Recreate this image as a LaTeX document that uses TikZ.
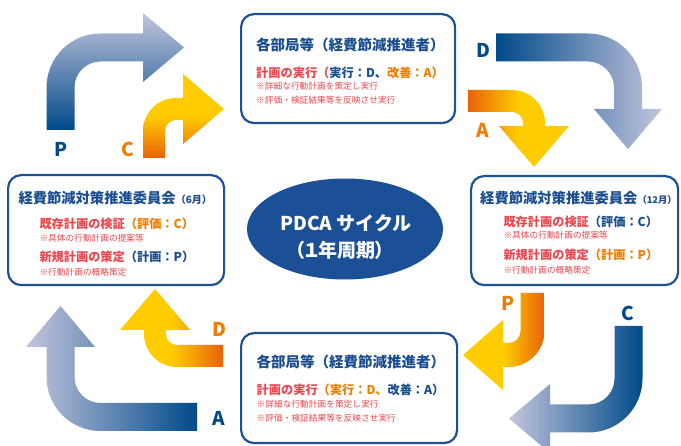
\documentclass[tikz,border=0pt]{standalone}
\usepackage{fontspec}
\newfontfamily\cjk{Noto Sans CJK JP}
\newfontfamily\cjkp{Noto Sans CJK JP}[RawFeature=+palt]
\usetikzlibrary{shapes.geometric}
\definecolor{navy}{HTML}{1A4D8F}
\definecolor{boxblue}{HTML}{1E5096}
\definecolor{arrnavy}{HTML}{004A8A}
\definecolor{lav}{HTML}{C3C5DD}
\definecolor{arrorange}{HTML}{E8620A}
\definecolor{yel}{HTML}{FFCC00}
\definecolor{txtred}{HTML}{E84850}
\definecolor{txtorange}{HTML}{EF7D00}
\definecolor{ellblue}{HTML}{1B4F96}
\begin{document}
\begin{tikzpicture}[x=1pt,y=-1pt,
  boxst/.style={draw=boxblue, line width=2.2pt, rounded corners=13pt, fill=white, anchor=north west, inner sep=0pt},
  ttl/.style={anchor=west, inner sep=0pt, text=navy, font=\cjk\bfseries\fontsize{14.5}{17}\selectfont},
  sttl/.style={anchor=west, inner sep=0pt, text=navy, font=\cjk\bfseries\fontsize{14.3}{16}\selectfont},
  lineb/.style={anchor=west, inner sep=0pt, font=\cjk\bfseries\fontsize{12.2}{14}\selectfont},
  note/.style={anchor=west, inner sep=0pt, text=txtred, font=\cjk\fontsize{8.7}{10}\selectfont},
  lbl/.style={inner sep=0pt, font=\cjk\bfseries\fontsize{19}{20}\selectfont},
  elltxt/.style={inner sep=0pt, text=white},
]
\useasboundingbox (0,0) rectangle (681,446);
\fill[white] (0,0) rectangle (681,446);

% ---- arrows ----
% top-left big (P)
\shade[top color=lav, bottom color=arrnavy]
  (46.5,130) -- (46.5,87.5) arc[start angle=180,end angle=270,radius=54]
  -- (143,33.5) -- (143,13) -- (184,47.5) -- (143,82) -- (143,61.5) -- (100.5,61.5)
  arc[start angle=270,end angle=180,radius=26] -- (74.5,130) -- cycle;
% top-left small (C)
\shade[top color=yel, bottom color=arrorange, middle color=yel]
  (143,158) -- (143,131) arc[start angle=180,end angle=270,radius=33]
  -- (183,98) -- (183,74) -- (224,109) -- (183,144) -- (183,120) -- (176,120)
  arc[start angle=270,end angle=180,radius=11] -- (165,158) -- cycle;
% top-right big (D)
\shade[left color=arrnavy, right color=lav]
  (496,33.5) -- (588,33.5) arc[start angle=270,end angle=360,radius=54]
  -- (642,109) -- (662,109) -- (628,149) -- (594,109) -- (614,109) -- (614,87.5)
  arc[start angle=0,end angle=-90,radius=26] -- (496,61.5) -- cycle;
% top-right small (A)
\shade[left color=arrorange, right color=yel, middle color=yel]
  (468,90) -- (512,90) arc[start angle=270,end angle=360,radius=33]
  -- (545,126) -- (569,126) -- (534,167) -- (499,126) -- (523,126) -- (523,123)
  arc[start angle=0,end angle=-90,radius=11] -- (468,112) -- cycle;
% bottom-right small (P)
\shade[left color=yel, right color=arrorange, middle color=yel]
  (544.5,293) -- (544.5,331) arc[start angle=0,end angle=90,radius=36]
  -- (503,367) -- (503,390) -- (463,355) -- (503,320) -- (503,343) -- (508.5,343)
  arc[start angle=90,end angle=0,radius=12] -- (520.5,293) -- cycle;
% bottom-right big (C)
\shade[left color=lav, right color=arrnavy]
  (642.5,326) -- (642.5,378.5) arc[start angle=0,end angle=90,radius=54]
  -- (550,432.5) -- (550,453) -- (509,418.5) -- (550,384) -- (550,404.5) -- (588.5,404.5)
  arc[start angle=90,end angle=0,radius=26] -- (614.5,326) -- cycle;
% bottom-left big (A)
\shade[left color=lav, right color=arrnavy]
  (197,431) -- (100.5,431) arc[start angle=90,end angle=180,radius=54]
  -- (46.5,347) -- (26,347) -- (60.5,306) -- (95,347) -- (74.5,347) -- (74.5,377)
  arc[start angle=180,end angle=90,radius=26] -- (197,403) -- cycle;
% bottom-left small (D)
\shade[left color=yel, right color=arrorange, middle color=yel]
  (223,367) -- (177,367) arc[start angle=90,end angle=180,radius=33]
  -- (144,330) -- (120,330) -- (155,289) -- (190,330) -- (166,330) -- (166,334)
  arc[start angle=180,end angle=90,radius=11] -- (223,345) -- cycle;

% ---- arrow labels ----
\node[lbl, text=arrnavy] (lp1) at (61,149.5) {P};
\node[lbl, text=txtorange] (lc1) at (127.5,149.5) {C};
\node[lbl, text=arrnavy] (ld1) at (483.5,50.5) {D};
\node[lbl, text=txtorange] (la1) at (483,130.5) {A};
\node[lbl, text=txtorange] (lp2) at (508,303) {P};
\node[lbl, text=arrnavy] (lc2) at (628,313) {C};
\node[lbl, text=txtorange] (ld2) at (219.5,329.7) {D};
\node[lbl, text=arrnavy] (la2) at (219,418) {A};

% ---- boxes ----
\node[boxst, minimum width=214pt, minimum height=109pt] (topbox) at (240,13) {};
\node[ttl] (toptitle) at (256,45) {各部局等（経費節減推進者）};
\node[lineb] (topline) at (256,72.5) {\textcolor{txtred}{計画の実行（}\textcolor{navy}{実行：D、}\textcolor{txtorange}{改善：A）}};
\node[note] (topnote1) at (256,86.5) {※詳細な行動計画を策定し実行};
\node[note] (topnote2) at (256,100.5) {※評価・検証結果等を反映させ実行};

\node[boxst, minimum width=216pt, minimum height=110pt] (botbox) at (240,332) {};
\node[ttl] (bottitle) at (256.5,362) {各部局等（経費節減推進者）};
\node[lineb] (botline) at (256.5,390) {\textcolor{txtred}{計画の実行}\textcolor{txtorange}{（実行：D、}\textcolor{navy}{改善：A）}};
\node[note] (botnote1) at (256.5,404) {※詳細な行動計画を策定し実行};
\node[note] (botnote2) at (256.5,418) {※評価・検証結果等を反映させ実行};

\node[boxst, minimum width=216pt, minimum height=110pt] (leftbox) at (7,174) {};
\node[sttl] (lefttitle) at (18.3,198.3) {経費節減対策推進委員会{\fontsize{10}{12}\selectfont（6月）}};
\node[lineb] (leftline1) at (39.3,224.3) {\textcolor{txtred}{既存計画の検証}\textcolor{txtorange}{（評価：C）}};
\node[note] (leftnote1) at (39.3,238.3) {※具体の行動計画の提案等};
\node[lineb] (leftline2) at (39.3,256.7) {\textcolor{txtred}{新規計画の策定}\textcolor{navy}{（計画：P）}};
\node[note] (leftnote2) at (39.3,272.3) {※行動計画の概略策定};

\node[boxst, minimum width=207pt, minimum height=109pt] (rightbox) at (470,175) {};
\node[sttl] (righttitle) at (480,198.3) {経費節減対策推進委員会{\fontsize{9.3}{12}\selectfont（12月）}};
\node[lineb] (rightline1) at (503.3,221.7) {\textcolor{txtred}{既存計画の検証}\textcolor{navy}{（評価：C）}};
\node[note] (rightnote1) at (503.3,235.5) {※具体の行動計画の提案等};
\node[lineb] (rightline2) at (503.3,255) {\textcolor{txtred}{新規計画の策定}\textcolor{txtorange}{（計画：P）}};
\node[note] (rightnote2) at (503.3,270.5) {※行動計画の概略策定};

% ---- center ellipse ----
\node[ellipse, fill=ellblue, minimum width=196pt, minimum height=101pt, inner sep=0pt] (pdca) at (345,229) {};
\node[elltxt, font=\cjk\bfseries\fontsize{19}{20}\selectfont] (pdca1) at (346,223) {PDCA サイクル};
\node[elltxt, font=\cjkp\bfseries\fontsize{19}{20}\selectfont] (pdca2) at (340,250) {（１年周期）};
\end{tikzpicture}
\end{document}
